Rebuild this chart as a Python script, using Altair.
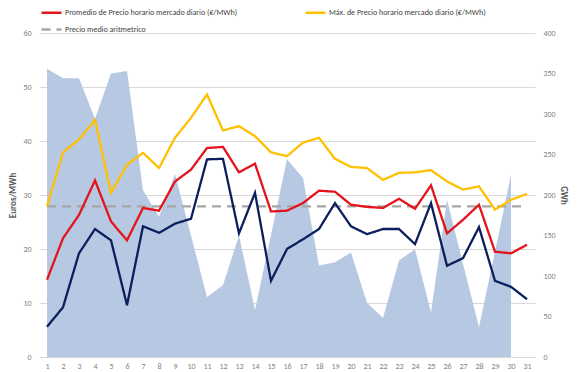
import altair as alt
import pandas as pd

days = list(range(1, 32))

# GWh (right axis) - area, day 31 has no value
gwh = [356, 344, 344, 294, 350, 353, 206, 173, 226, 150, 74, 89, 150, 58, 151,
       244, 221, 113, 117, 129, 67, 48, 119, 133, 55, 194, 115, 37, 130, 225, None]

promedio = [14.3, 22.0, 26.3, 32.7, 25.1, 21.6, 27.6, 27.1, 32.5, 34.7, 38.7, 38.9,
            34.2, 35.8, 26.95, 27.1, 28.5, 30.8, 30.6, 28.2, 27.8, 27.6, 29.3, 27.45,
            31.8, 22.9, 25.4, 28.2, 19.5, 19.2, 20.8]

maximo = [27.9, 37.9, 40.3, 43.9, 30.4, 35.6, 37.8, 35.0, 40.6, 44.3, 48.6, 41.95,
          42.75, 40.9, 37.9, 37.2, 39.7, 40.6, 36.7, 35.2, 35.0, 32.8, 34.1, 34.2,
          34.6, 32.5, 31.0, 31.6, 27.3, 29.1, 30.2]

minimo = [5.6, 9.2, 19.2, 23.7, 21.6, 9.6, 24.2, 23.0, 24.7, 25.6, 36.6, 36.7,
          22.9, 30.4, 14.1, 20.0, 21.8, 23.7, 28.5, 24.2, 22.75, 23.7, 23.7, 20.9,
          28.5, 16.9, 18.3, 24.05, 14.1, 13.0, 10.7]

precio_medio = 27.9

s_prom = "Promedio de Precio horario mercado diario (€/MWh)"
s_max = "Máx. de Precio horario mercado diario (€/MWh)"
s_med = "Precio medio aritmetrico"
s_min = "Mínimo"

series_names = [s_prom, s_med, s_max, s_min]
series_colors = ["#e3141c", "#a6a6a6", "#ffc000", "#0b1f5c"]
series_dash = [[1, 0], [9, 6], [1, 0], [1, 0]]
legend_values = [s_prom, s_med, s_max]

FONT = "Carlito, Lato, sans-serif"

area_df = pd.DataFrame({"dia": days, "gwh": gwh}).dropna()

rows = []
for name, vals in [(s_med, [precio_medio] * len(days)), (s_prom, promedio),
                   (s_max, maximo), (s_min, minimo)]:
    for d, v in zip(days, vals):
        rows.append({"dia": d, "valor": v, "serie": name})
line_df = pd.DataFrame(rows)

xenc = alt.X("dia:Q",
             scale=alt.Scale(domain=[0.5, 31.5], nice=False, zero=False),
             axis=alt.Axis(values=days, title=None, grid=False, ticks=False,
                           domainColor="#d9d9d9", labelColor="#7f7f7f",
                           labelFontSize=8, labelPadding=5, labelFont=FONT))

area = alt.Chart(area_df).mark_area(color="#b7c9e2", opacity=1).encode(
    x=xenc,
    y=alt.Y("gwh:Q", scale=alt.Scale(domain=[0, 400], nice=False),
            axis=alt.Axis(orient="right", values=list(range(0, 401, 50)),
                          title="GWh", grid=False, domain=False, ticks=False,
                          labelColor="#7f7f7f", labelFontSize=8, labelPadding=8,
                          labelFont=FONT, titleFont=FONT, titleFontSize=9,
                          titleFontWeight="bold", titleColor="#595959",
                          titlePadding=3)),
)

legend_kw = dict(values=legend_values, title=None, orient="none", legendX=1,
                 legendY=-32, columns=2, columnPadding=62, rowPadding=-3,
                 symbolType="stroke", symbolSize=400, symbolStrokeWidth=2.5,
                 labelFontSize=8, labelFont=FONT, labelColor="#404040",
                 labelOffset=2, labelLimit=300)

lines = alt.Chart(line_df).mark_line(strokeWidth=2.3).encode(
    x=xenc,
    y=alt.Y("valor:Q", scale=alt.Scale(domain=[0, 60], nice=False),
            axis=alt.Axis(orient="left", values=list(range(0, 61, 10)),
                          title="Euros/MWh", grid=True, gridColor="#d9d9d9",
                          domain=False, ticks=False, labelColor="#7f7f7f",
                          labelFontSize=8, labelPadding=8, labelFont=FONT,
                          titleFont=FONT, titleFontSize=9, titleFontWeight="bold",
                          titleColor="#595959", titlePadding=5)),
    color=alt.Color("serie:N",
                    scale=alt.Scale(domain=series_names, range=series_colors),
                    legend=alt.Legend(**legend_kw)),
    strokeDash=alt.StrokeDash("serie:N",
                              scale=alt.Scale(domain=series_names, range=series_dash),
                              legend=alt.Legend(**legend_kw)),
    order=alt.Order("serie:N"),
)

chart = alt.layer(area, lines).resolve_scale(y="independent").properties(
    width=496, height=324,
    autosize=alt.AutoSizeParams(type="none"),
    padding={"left": 31, "top": 25, "right": 35, "bottom": 15},
    background="white",
).configure_view(stroke=None)

chart.save("out.html", embed_options={"renderer": "svg", "actions": False})
